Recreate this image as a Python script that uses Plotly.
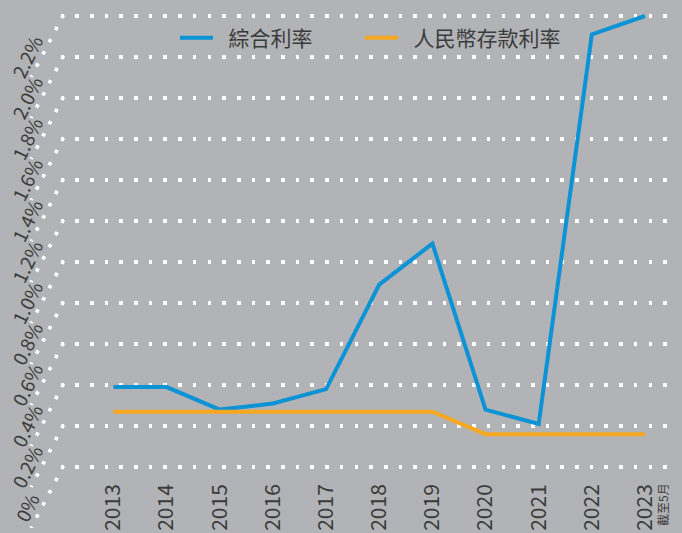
import plotly.graph_objects as go

years = [2013, 2014, 2015, 2016, 2017, 2018, 2019, 2020, 2021, 2022, 2023]
year_labels = ["2013", "2014", "2015", "2016", "2017", "2018", "2019", "2020", "2021", "2022", "2023"]
composite_rate = [0.39, 0.39, 0.28, 0.31, 0.38, 0.89, 1.09, 0.28, 0.21, 2.11, 2.20]
rmb_deposit_rate = [0.27, 0.27, 0.27, 0.27, 0.27, 0.27, 0.27, 0.16, 0.16, 0.16, 0.16]
y_ticks = [0, 0.2, 0.4, 0.6, 0.8, 1.0, 1.2, 1.4, 1.6, 1.8, 2.0, 2.2]
y_tick_labels = ["0%", "0.2%", "0.4%", "0.6%", "0.8%", "1.0%", "1.2%", "1.4%", "1.6%", "1.8%", "2.0%", "2.2%"]
series_names = ["綜合利率", "人民幣存款利率"]
last_note = "截至5月"

W, H = 682, 533
BG = "#b1b3b6"
TXT = "#3b3b3b"
FONT = "Noto Sans CJK TC"
BLUE = "#0b93d6"
ORANGE = "#f6a821"

# layout geometry (pixels)
mt, mb = 6, 5
ph = H - mt - mb
px_per_unit = 205.0
y_top_val = 2.2 + (16 - mt) / px_per_unit
y_bot_val = y_top_val - ph / px_per_unit
zero_px = mt + y_top_val * px_per_unit
x_dom = [60.5 / W, 675.2 / W]
p2013, p2023 = 113.5, 645.0
ppy = (p2023 - p2013) / 10
x_rng = [2013 - (p2013 - 60.5) / ppy, 2023 + (675.2 - p2023) / ppy]

fig = go.Figure()
fig.add_trace(go.Scatter(x=years, y=composite_rate, name="\u2002" + series_names[0], mode="lines",
                         line=dict(color=BLUE, width=4), legend="legend"))
fig.add_trace(go.Scatter(x=years, y=rmb_deposit_rate, name="\u2002" + series_names[1], mode="lines",
                         line=dict(color=ORANGE, width=4), legend="legend2"))

dot = 3.6
shapes = []
annotations = []
for v, lab in zip(y_ticks, y_tick_labels):
    shapes.append(dict(type="line", xref="paper", yref="y",
                       x0=63.5 / W, y0=v + 1.2 / px_per_unit,
                       x1=31 / W, y1=v - 61 / px_per_unit,
                       line=dict(color="white", width=dot, dash="3.6px,10.1px"), layer="below"))
    annotations.append(dict(text=lab, xref="paper", yref="y", x=26 / W, y=v, yshift=-40,
                            xanchor="center", yanchor="middle", textangle=-64, showarrow=False,
                            font=dict(family=FONT, size=19, color=TXT)))

annotations.append(dict(text=last_note, xref="x", yref="y", x=years[-1], y=0,
                        xshift=17, yshift=-38, xanchor="center", yanchor="middle",
                        textangle=-90, showarrow=False,
                        font=dict(family=FONT, size=12, color=TXT)))

leg_common = dict(orientation="h", xanchor="left", y=(H - mb - 38) / ph, yanchor="middle",
                  bgcolor="rgba(0,0,0,0)", font=dict(family=FONT, size=21, color=TXT),
                  itemwidth=33)

fig.update_layout(
    width=W, height=H,
    margin=dict(l=0, r=0, t=mt, b=mb, pad=0),
    paper_bgcolor=BG, plot_bgcolor=BG,
    font=dict(family=FONT, color=TXT),
    showlegend=True,
    legend=dict(x=175 / W, **leg_common),
    legend2=dict(x=360 / W, **leg_common),
    xaxis=dict(domain=x_dom, range=x_rng, tickvals=years, ticktext=year_labels,
               tickangle=-90, ticks="", showgrid=False, zeroline=False, showline=False,
               anchor="free", position=(H - mb - zero_px) / ph, ticklabelstandoff=12,
               tickfont=dict(family=FONT, size=21, color=TXT)),
    yaxis=dict(range=[y_bot_val, y_top_val], tickvals=y_ticks, showticklabels=False,
               showgrid=True, gridcolor="white", gridwidth=dot, griddash="3.6px,11.1px",
               zeroline=False, showline=False, ticks=""),
    shapes=shapes, annotations=annotations,
)

fig.write_html("out.html", config={"displayModeBar": False},
               post_script="document.body.style.margin='0';document.body.style.background='%s';" % BG)
